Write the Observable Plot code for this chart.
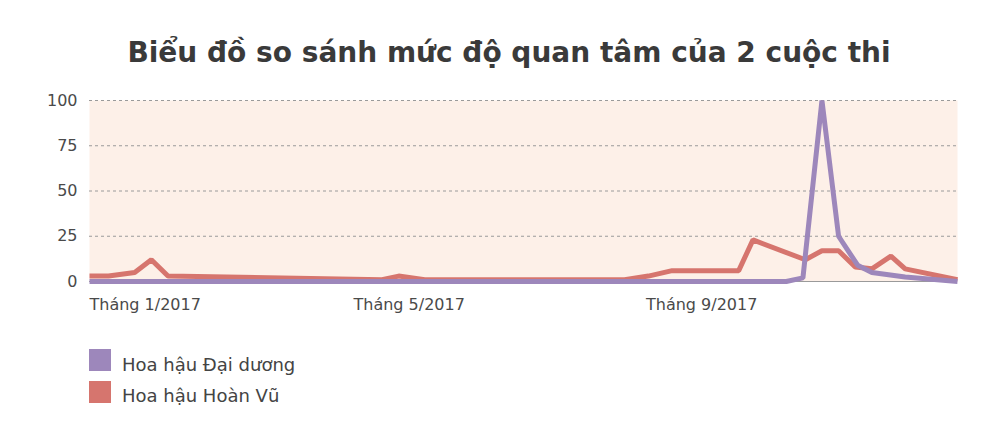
<!DOCTYPE html>
<html>
<head>
<meta charset="utf-8">
<script src="https://cdn.jsdelivr.net/npm/d3@7"></script>
<script src="https://cdn.jsdelivr.net/npm/@observablehq/plot@0.6"></script>
<style>
  html, body { margin: 0; padding: 0; background: #ffffff; }
  #wrap { position: relative; width: 1000px; height: 439px; overflow: hidden; }
  #title { position: absolute; left: 9px; top: 39px; width: 1000px; text-align: center; white-space: nowrap;
           font-family: "DejaVu Sans", sans-serif; font-weight: bold; font-size: 28px; line-height: 28px; color: #3a3a3a; }
  #chart { position: absolute; left: 0; top: 88px; }
  .sw { position: absolute; left: 89px; width: 22px; height: 22px; }
  .lt { position: absolute; left: 122px; font-family: "DejaVu Sans", sans-serif; font-size: 18px; line-height: 22px; color: #444; }
</style>
</head>
<body>
<div id="wrap">
  <div id="title">Biểu đồ so sánh mức độ quan tâm của 2 cuộc thi</div>
  <div id="chart"></div>
  <div id="legend"></div>
</div>
<script>
// Series names and colours
const seriesNames = ["Hoa hậu Đại dương", "Hoa hậu Hoàn Vũ"];
const seriesColors = ["#9d87bb", "#d6756e"];

// Hoa hậu Đại dương (purple)
const datesDaiDuong = ["2017-01-10","2017-10-30","2017-11-06","2017-11-14","2017-11-21","2017-11-29","2017-12-05","2017-12-19","2018-01-10"];
const valuesDaiDuong = [0, 0, 2, 100, 25, 9, 5, 2.5, 0];

// Hoa hậu Hoàn Vũ (red)
const datesHoanVu = ["2017-01-10","2017-01-18","2017-01-29","2017-02-05","2017-02-12","2017-05-13","2017-05-20","2017-05-31","2017-08-23","2017-09-02","2017-09-12","2017-10-10","2017-10-16","2017-11-07","2017-11-14","2017-11-21","2017-11-28","2017-12-05","2017-12-13","2017-12-19","2018-01-10"];
const valuesHoanVu = [3, 3, 5, 12, 3, 1, 3, 1, 1, 3, 6, 6, 23, 12, 17, 17, 8, 7, 14, 7, 1];

// Axis ticks
const xDomain = ["2017-01-10", "2018-01-10"];
const xTickDates = ["2017-01-10", "2017-05-01", "2017-09-01"];
const xTickLabels = ["Tháng 1/2017", "Tháng 5/2017", "Tháng 9/2017"];
const yTicks = [0, 25, 50, 75, 100];
const yGrid = [25, 50, 75, 100];

const toRows = (dates, values) => dates.map((d, i) => ({date: new Date(d), value: values[i]}));
const rowsDD = toRows(datesDaiDuong, valuesDaiDuong);
const rowsHV = toRows(datesHoanVu, valuesHoanVu);
const tickDates = xTickDates.map(d => new Date(d));

const chart = Plot.plot({
  width: 1000,
  height: 242,
  marginLeft: 89,
  marginRight: 43,
  marginTop: 12,
  marginBottom: 49,
  style: {fontFamily: "DejaVu Sans, sans-serif", fontSize: "16px", color: "#4a4a4a", background: "transparent", overflow: "visible"},
  x: {type: "utc", domain: xDomain.map(d => new Date(d))},
  y: {domain: [0, 100]},
  marks: [
    Plot.frame({fill: "#fdf0e8", stroke: null}),
    Plot.ruleY(yGrid, {stroke: "#9a9a9a", strokeWidth: 1, strokeDasharray: "3,3"}),
    Plot.ruleY([0], {stroke: "#9a9a9a", strokeWidth: 1}),
    Plot.axisY({ticks: yTicks, tickSize: 0, tickPadding: 12, label: null, fontSize: 16}),
    Plot.axisX({ticks: tickDates, tickSize: 0, tickPadding: 17, textAnchor: "start", label: null, fontSize: 16,
      tickFormat: d => xTickLabels[tickDates.findIndex(t => +t === +d)]}),
    Plot.line(rowsHV, {x: "date", y: "value", stroke: seriesColors[1], strokeWidth: 5, strokeLinejoin: "miter", strokeLinecap: "butt"}),
    Plot.line(rowsDD, {x: "date", y: "value", stroke: seriesColors[0], strokeWidth: 5, strokeLinejoin: "miter", strokeLinecap: "butt"})
  ]
});
document.getElementById("chart").appendChild(chart);

// Legend
const legend = document.getElementById("legend");
seriesNames.forEach((name, i) => {
  const sw = document.createElement("div");
  sw.className = "sw";
  sw.style.top = (349 + i * 32) + "px";
  sw.style.background = seriesColors[i];
  legend.appendChild(sw);
  const t = document.createElement("div");
  t.className = "lt";
  t.style.top = (354 + i * 31) + "px";
  t.textContent = name;
  legend.appendChild(t);
});
</script>
</body>
</html>
